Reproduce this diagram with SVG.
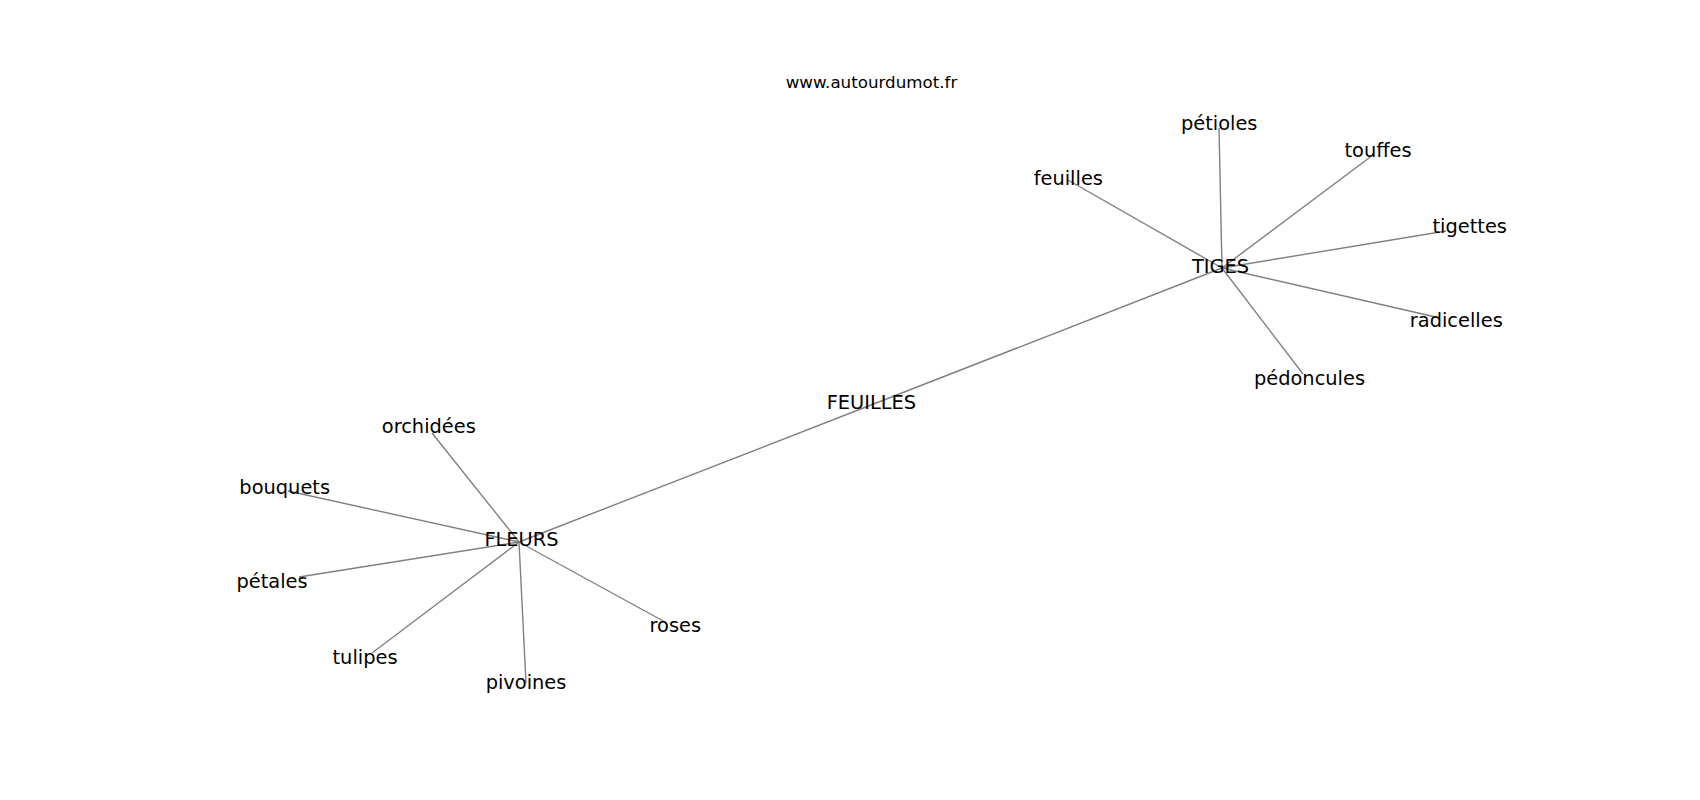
<svg xmlns="http://www.w3.org/2000/svg" width="1700" height="800" viewBox="0 0 1700 800">
<style>
.bg{fill:#ffffff}
.edge{stroke:#808080;stroke-width:1.4;fill:none}
.lbl{font-family:"DejaVu Sans","Liberation Sans",sans-serif;font-size:19.4px;fill:#000000;text-anchor:middle}
.title{font-family:"DejaVu Sans","Liberation Sans",sans-serif;font-size:16.7px;fill:#000000;text-anchor:middle}
</style>
<rect class="bg" x="0" y="0" width="1700" height="800"/>
<text class="title" x="871.5" y="88">www.autourdumot.fr</text>
<g id="connectors">
<line class="edge" x1="1222" y1="268" x2="1068" y2="180"/>
<line class="edge" x1="1222" y1="268" x2="1219" y2="128"/>
<line class="edge" x1="1222" y1="268" x2="1373" y2="155"/>
<line class="edge" x1="1222" y1="268" x2="1446" y2="231"/>
<line class="edge" x1="1222" y1="268" x2="1440" y2="318"/>
<line class="edge" x1="1222" y1="268" x2="1303" y2="374"/>
<line class="edge" x1="1222" y1="268" x2="871" y2="405"/>
<line class="edge" x1="519" y1="542" x2="871" y2="405"/>
<line class="edge" x1="519" y1="542" x2="432" y2="433"/>
<line class="edge" x1="519" y1="542" x2="288" y2="491"/>
<line class="edge" x1="519" y1="542" x2="299" y2="577"/>
<line class="edge" x1="519" y1="542" x2="372" y2="653"/>
<line class="edge" x1="519" y1="542" x2="526" y2="683"/>
<line class="edge" x1="519" y1="542" x2="665" y2="622"/>
</g>
<g id="node-tiges"><text class="lbl" x="1220.5" y="273">TIGES</text></g>
<g id="node-fleurs"><text class="lbl" x="521.5" y="546">FLEURS</text></g>
<g id="node-feuilles-hub"><text class="lbl" x="871.4" y="409">FEUILLES</text></g>
<g id="node-feuilles"><text class="lbl" x="1068.3" y="185">feuilles</text></g>
<g id="node-petioles"><text class="lbl" x="1219.2" y="130">pétioles</text></g>
<g id="node-touffes"><text class="lbl" x="1378" y="157">touffes</text></g>
<g id="node-tigettes"><text class="lbl" x="1469.7" y="233">tigettes</text></g>
<g id="node-radicelles"><text class="lbl" x="1456.3" y="327">radicelles</text></g>
<g id="node-pedoncules"><text class="lbl" x="1309.5" y="385">pédoncules</text></g>
<g id="node-orchidees"><text class="lbl" x="428.8" y="433">orchidées</text></g>
<g id="node-bouquets"><text class="lbl" x="284.7" y="494">bouquets</text></g>
<g id="node-petales"><text class="lbl" x="272" y="588">pétales</text></g>
<g id="node-tulipes"><text class="lbl" x="365" y="664">tulipes</text></g>
<g id="node-pivoines"><text class="lbl" x="526" y="689">pivoines</text></g>
<g id="node-roses"><text class="lbl" x="675.3" y="631.7">roses</text></g>
</svg>
